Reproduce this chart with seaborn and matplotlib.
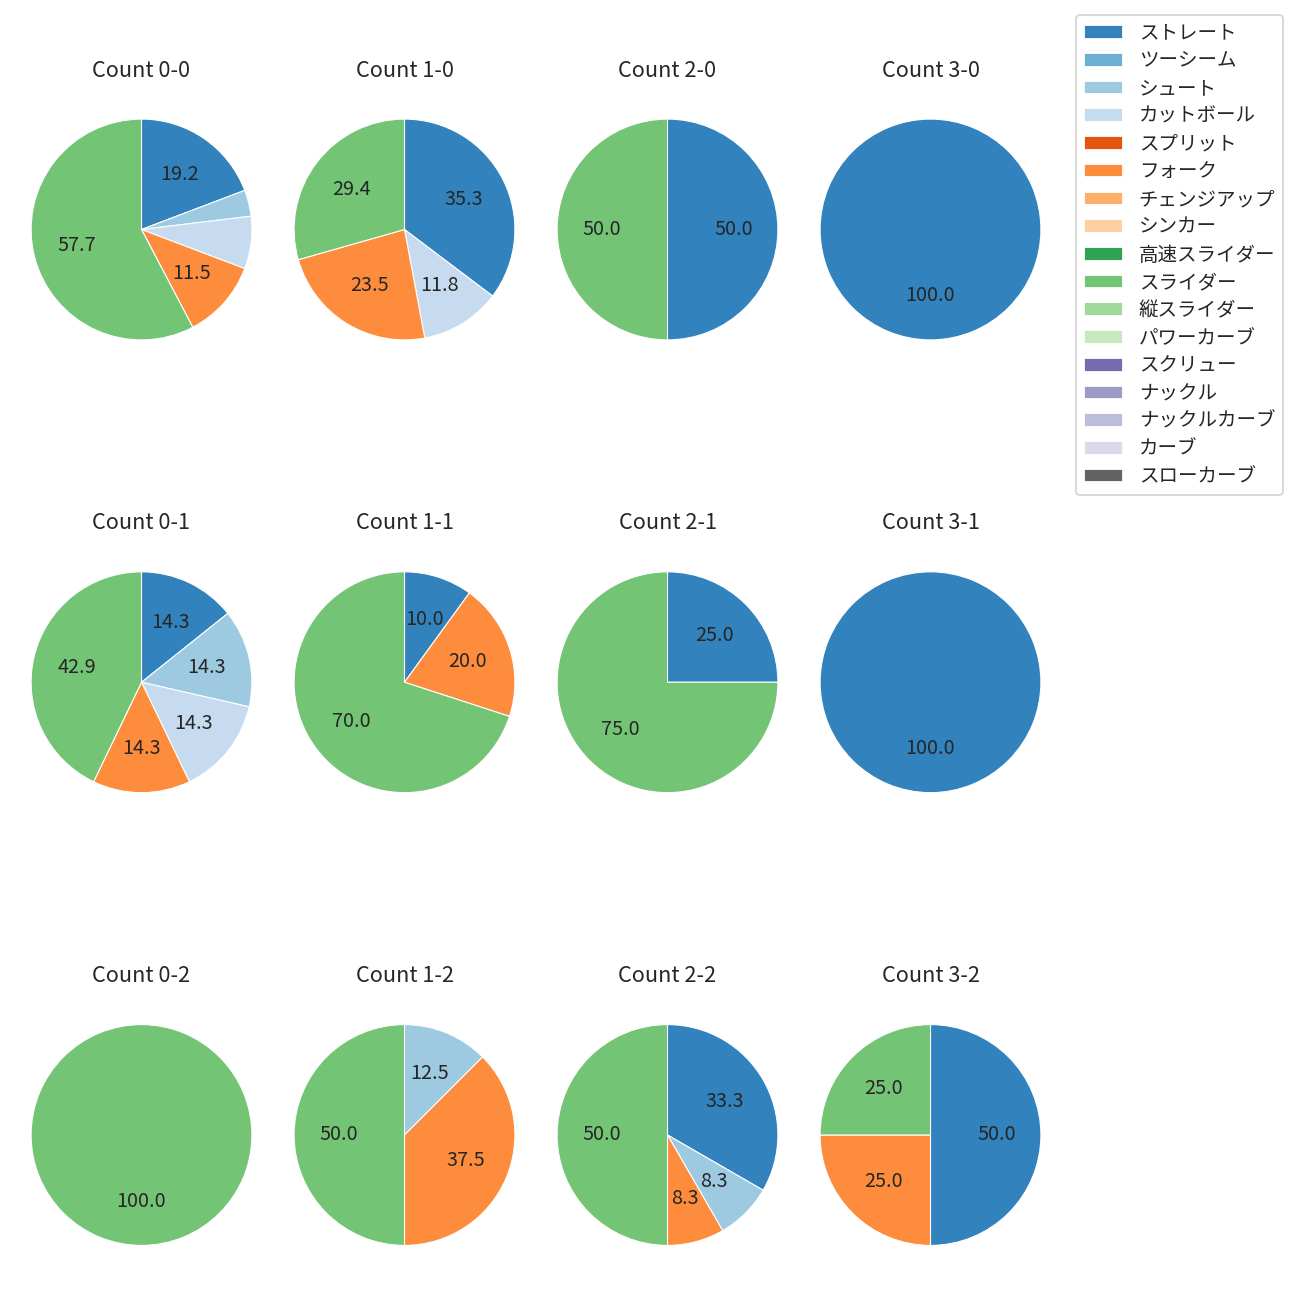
import matplotlib
matplotlib.use("Agg")
import matplotlib.pyplot as plt
from matplotlib.patches import Patch
import seaborn as sns

sns.set_style("white")
plt.rcParams['font.family'] = ['Noto Sans CJK JP', 'DejaVu Sans']

pitch_types = ["ストレート", "ツーシーム", "シュート", "カットボール", "スプリット", "フォーク",
               "チェンジアップ", "シンカー", "高速スライダー", "スライダー", "縦スライダー",
               "パワーカーブ", "スクリュー", "ナックル", "ナックルカーブ", "カーブ", "スローカーブ"]

# pitch counts per ball-strike count, ordered as pitch_types
c_0_0 = [5, 0, 1, 2, 0, 3, 0, 0, 0, 15, 0, 0, 0, 0, 0, 0, 0]
c_1_0 = [6, 0, 0, 2, 0, 4, 0, 0, 0, 5, 0, 0, 0, 0, 0, 0, 0]
c_2_0 = [1, 0, 0, 0, 0, 0, 0, 0, 0, 1, 0, 0, 0, 0, 0, 0, 0]
c_3_0 = [1, 0, 0, 0, 0, 0, 0, 0, 0, 0, 0, 0, 0, 0, 0, 0, 0]
c_0_1 = [1, 0, 1, 1, 0, 1, 0, 0, 0, 3, 0, 0, 0, 0, 0, 0, 0]
c_1_1 = [1, 0, 0, 0, 0, 2, 0, 0, 0, 7, 0, 0, 0, 0, 0, 0, 0]
c_2_1 = [1, 0, 0, 0, 0, 0, 0, 0, 0, 3, 0, 0, 0, 0, 0, 0, 0]
c_3_1 = [1, 0, 0, 0, 0, 0, 0, 0, 0, 0, 0, 0, 0, 0, 0, 0, 0]
c_0_2 = [0, 0, 0, 0, 0, 0, 0, 0, 0, 1, 0, 0, 0, 0, 0, 0, 0]
c_1_2 = [0, 0, 1, 0, 0, 3, 0, 0, 0, 4, 0, 0, 0, 0, 0, 0, 0]
c_2_2 = [4, 0, 1, 0, 0, 1, 0, 0, 0, 6, 0, 0, 0, 0, 0, 0, 0]
c_3_2 = [2, 0, 0, 0, 0, 1, 0, 0, 0, 1, 0, 0, 0, 0, 0, 0, 0]

count_titles = ["Count 0-0", "Count 1-0", "Count 2-0", "Count 3-0",
                "Count 0-1", "Count 1-1", "Count 2-1", "Count 3-1",
                "Count 0-2", "Count 1-2", "Count 2-2", "Count 3-2"]
count_data = [c_0_0, c_1_0, c_2_0, c_3_0,
              c_0_1, c_1_1, c_2_1, c_3_1,
              c_0_2, c_1_2, c_2_2, c_3_2]

colors = sns.color_palette("tab20c", 20)[:len(pitch_types)]

fig, axes = plt.subplots(3, 4, figsize=(10, 10), dpi=130)
cell_w, cell_h = 250.0, 276.0
fig.subplots_adjust(left=16.5 / 1300, right=1055.5 / 1300,
                    top=1 - 91.5 / 1300, bottom=27 / 1300,
                    wspace=13 / 250, hspace=176.75 / 276)


def fmt(p):
    return f"{p:.1f}" if p >= 8 else ""


for ax, title, vals in zip(axes.flat, count_titles, count_data):
    v = [x for x in vals if x > 0]
    c = [colors[i] for i, x in enumerate(vals) if x > 0]
    ax.pie(v, colors=c, startangle=90, counterclock=False, autopct=fmt,
           pctdistance=0.6, wedgeprops=dict(edgecolor="white", linewidth=0.6),
           textprops=dict(fontsize=11))
    ax.set_ylim(-1.25, 1.25)
    ax.set_xlim(-1.25 * cell_w / cell_h, 1.25 * cell_w / cell_h)
    ax.set_title(title, fontsize=12, pad=8.2)

handles = [Patch(facecolor=col, label=lab) for col, lab in zip(colors, pitch_types)]
fig.legend(handles=handles, loc="upper right",
           bbox_to_anchor=(1283 / 1300, 1 - 15 / 1300), borderaxespad=0,
           fontsize=10.8, labelspacing=0.345)

fig.savefig("out.png", dpi=130)
